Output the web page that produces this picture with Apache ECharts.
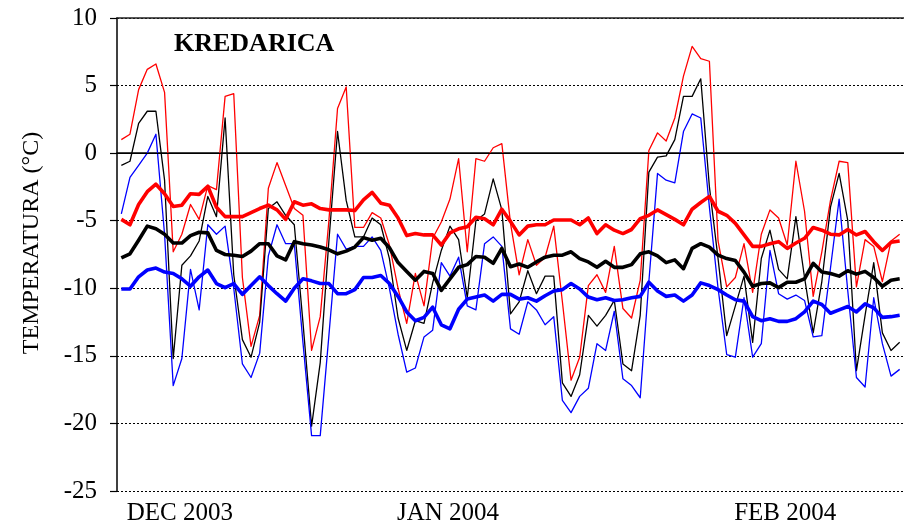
<!DOCTYPE html>
<html>
<head>
<meta charset="utf-8">
<script src="https://cdn.jsdelivr.net/npm/echarts@6/dist/echarts.min.js"></script>
<style>
  html, body { margin: 0; padding: 0; background: #fff; }
  #chart { width: 904px; height: 528px; }
</style>
</head>
<body>
<div id="chart"></div>
<script>
// Daily air temperature at Kredarica, 1 Dec 2003 - 29 Feb 2004 (°C)
const stationName = 'KREDARICA';
const axisTitle = 'TEMPERATURA (°C)';

// one category per day
const firstDay = Date.UTC(2003, 11, 1);
const dayCount = 91;
const days = [];
for (let i = 0; i < dayCount; i++) {
  days.push(new Date(firstDay + i * 86400000).toISOString().slice(0, 10));
}

// month captions under the axis
const monthLabels = ['DEC 2003', 'JAN 2004', 'FEB 2004'];
const monthLabelDays = ['2003-12-08', '2004-01-08', '2004-02-16'];

// y axis ticks
const yTicks = [-25, -20, -15, -10, -5, 0, 5, 10];

// daily maximum
const tMax = [
  1.0, 1.4, 4.7, 6.2, 6.6, 4.5, -7.3, -6.0, -3.8, -4.9,
  -2.4, -2.7, 4.2, 4.4, -9.2, -14.3, -12.0, -2.6, -0.7, -2.4,
  -4.1, -4.6, -14.6, -12.1, -5.0, 3.3, 4.9, -5.5, -5.5, -4.4,
  -4.8, -6.8, -10.0, -12.6, -8.9, -11.3, -6.3, -5.1, -3.4, -0.4,
  -7.3, -0.4, -0.6, 0.4, 0.7, -5.2, -9.0, -6.4, -8.3, -7.7,
  -5.4, -11.0, -16.8, -15.1, -9.8, -9.0, -10.3, -6.9, -11.5, -12.2,
  -9.4, 0.2, 1.5, 0.9, 2.6, 5.7, 7.9, 7.0, 6.8, -6.5,
  -9.9, -9.2, -6.7, -10.3, -6.0, -4.2, -4.8, -6.8, -0.6, -4.3,
  -10.6, -7.3, -3.5, -0.6, -0.7, -9.9, -6.4, -6.9, -9.5, -6.5,
  -6.0
];

// daily mean
const tMean = [
  -0.9, -0.6, 2.2, 3.1, 3.1, -2.0, -15.2, -8.3, -7.6, -6.5,
  -3.2, -4.7, 2.6, -9.0, -13.8, -15.1, -12.5, -4.1, -3.6, -4.6,
  -5.3, -12.5, -20.2, -15.5, -6.5, 1.6, -3.5, -6.2, -6.2, -4.8,
  -5.3, -7.8, -12.2, -14.6, -12.4, -12.6, -9.6, -7.2, -5.4, -6.4,
  -10.7, -5.0, -4.5, -1.9, -4.2, -11.9, -11.0, -8.7, -10.4, -9.1,
  -9.1, -17.0, -18.0, -16.4, -12.0, -12.8, -12.0, -10.9, -15.6, -16.1,
  -12.0, -1.4, -0.3, -0.2, 1.0, 4.2, 4.2, 5.5, -2.5, -7.8,
  -13.5, -11.3, -9.1, -14.0, -7.8, -5.7, -8.6, -9.3, -4.7, -9.2,
  -13.3, -9.5, -4.0, -1.5, -5.0, -16.1, -12.0, -8.1, -13.3, -14.6,
  -14.0
];

// daily minimum
const tMin = [
  -4.5, -1.8, -0.9, 0.0, 1.4, -6.0, -17.2, -15.2, -8.6, -11.6,
  -5.3, -6.0, -5.4, -10.0, -15.6, -16.6, -14.8, -7.6, -5.3, -6.7,
  -6.7, -14.0, -20.9, -20.9, -13.5, -6.0, -7.1, -6.9, -6.9, -6.2,
  -7.2, -10.0, -13.4, -16.2, -15.9, -13.6, -13.1, -8.1, -9.1, -7.7,
  -11.3, -11.6, -6.7, -6.2, -6.9, -13.0, -13.4, -11.0, -11.6, -12.7,
  -12.1, -18.3, -19.2, -18.0, -17.4, -14.1, -14.6, -11.7, -16.7, -17.2,
  -18.1, -9.5, -1.5, -2.0, -2.2, 1.6, 2.9, 2.6, -4.0, -10.0,
  -14.9, -15.1, -10.7, -15.1, -14.1, -7.2, -10.4, -10.8, -10.5, -10.9,
  -13.6, -13.5, -8.5, -3.4, -10.2, -16.6, -17.3, -10.7, -14.1, -16.5,
  -16.0
];

// long-term average of the daily maximum
const avgMax = [
  -4.9, -5.3, -3.8, -2.85, -2.3, -3.0, -3.95, -3.85, -3.0, -3.05,
  -2.45, -4.0, -4.7, -4.7, -4.7, -4.4, -4.1, -3.85, -4.2, -4.9,
  -3.6, -3.85, -3.75, -4.1, -4.2, -4.2, -4.2, -4.25, -3.45, -2.9,
  -3.7, -3.85, -4.8, -6.1, -5.95, -6.05, -6.05, -6.8, -5.9, -5.6,
  -5.45, -4.75, -4.85, -5.3, -4.15, -5.05, -6.05, -5.4, -5.3, -5.3,
  -4.95, -4.95, -4.95, -5.3, -4.8, -5.95, -5.3, -5.7, -5.95, -5.65,
  -4.85, -4.6, -4.2, -4.55, -4.9, -5.3, -4.15, -3.65, -3.2, -4.3,
  -4.6, -5.2, -6.05, -6.9, -6.9, -6.7, -6.55, -7.05, -6.65, -6.3,
  -5.5, -5.7, -6.0, -6.05, -5.65, -6.05, -5.8, -6.55, -7.2, -6.6,
  -6.5
];

// long-term average of the daily mean
const avgMean = [
  -7.75, -7.45, -6.45, -5.4, -5.6, -6.0, -6.65, -6.65, -6.1, -5.85,
  -5.9, -7.2, -7.5, -7.55, -7.65, -7.25, -6.7, -6.7, -7.6, -7.9,
  -6.55, -6.7, -6.8, -6.95, -7.15, -7.45, -7.25, -6.95, -6.25, -6.45,
  -6.3, -7.0, -8.1, -8.75, -9.4, -8.75, -8.9, -10.15, -9.3, -8.45,
  -8.25, -7.65, -7.7, -8.15, -7.05, -8.4, -8.2, -8.45, -8.05, -7.7,
  -7.55, -7.55, -7.3, -7.8, -8.05, -8.45, -8.0, -8.45, -8.45, -8.25,
  -7.45, -7.3, -7.6, -8.1, -7.9, -8.55, -7.05, -6.7, -6.95, -7.55,
  -7.8, -7.95, -8.8, -9.85, -9.65, -9.6, -9.95, -9.55, -9.55, -9.3,
  -8.15, -8.8, -8.9, -9.1, -8.7, -8.95, -8.75, -9.2, -9.85, -9.4,
  -9.3
];

// long-term average of the daily minimum
const avgMin = [
  -10.05, -10.05, -9.15, -8.65, -8.5, -8.8, -8.9, -9.3, -9.85, -9.15,
  -8.65, -9.65, -9.95, -9.65, -10.45, -9.8, -9.15, -9.8, -10.4, -10.95,
  -10.0, -9.3, -9.45, -9.65, -9.65, -10.4, -10.4, -10.1, -9.2, -9.2,
  -9.05, -9.65, -10.6, -11.75, -12.4, -12.15, -11.4, -12.7, -13.0, -11.55,
  -10.8, -10.65, -10.5, -10.95, -10.45, -10.45, -10.8, -10.7, -10.95, -10.55,
  -10.2, -10.1, -9.65, -10.05, -10.65, -10.85, -10.7, -10.9, -10.85, -10.7,
  -10.6, -9.55, -10.2, -10.6, -10.5, -10.95, -10.5, -9.6, -9.8, -10.1,
  -10.5, -10.85, -10.95, -12.1, -12.4, -12.25, -12.45, -12.45, -12.25, -11.75,
  -10.95, -11.2, -11.85, -11.6, -11.35, -11.75, -11.15, -11.45, -12.15, -12.1,
  -12.0
];

const serif = '"Liberation Serif", "Times New Roman", serif';

function lineSeries(name, data, color, width) {
  return {
    name: name,
    type: 'line',
    data: data,
    showSymbol: false,
    symbol: 'none',
    animation: false,
    lineStyle: { color: color, width: width, join: 'round' },
    itemStyle: { color: color }
  };
}

const chart = echarts.init(document.getElementById('chart'), null, { renderer: 'canvas' });

// solid line at 0 °C
const zeroLine = lineSeries('zero', [], '#000', 1);
zeroLine.markLine = {
  silent: true,
  symbol: 'none',
  animation: false,
  label: { show: false },
  lineStyle: { color: '#000', type: 'solid', width: 1 },
  data: [{ yAxis: 0 }]
};

chart.setOption({
  backgroundColor: '#fff',
  animation: false,
  title: {
    text: stationName,
    left: 174,
    top: 31,
    padding: 0,
    textStyle: { fontFamily: serif, fontWeight: 'bold', fontSize: 26, color: '#000' }
  },
  grid: { left: 117, right: -16, top: 18, bottom: 37, containLabel: false },
  xAxis: [
    {
      type: 'category',
      data: days,
      boundaryGap: true,
      axisLine: { show: true, lineStyle: { color: '#000', width: 1.5 } },
      axisTick: { show: false },
      splitLine: { show: false },
      axisLabel: {
        interval: function (index, value) { return monthLabelDays.indexOf(value) >= 0; },
        formatter: function (value) { return monthLabels[monthLabelDays.indexOf(value)]; },
        fontFamily: serif,
        fontSize: 25,
        color: '#000',
        margin: 10,
        padding: [0, 4, 0, 0]
      }
    },
    {
      type: 'category',
      data: days,
      position: 'top',
      boundaryGap: true,
      axisLine: { show: true, lineStyle: { color: '#222', width: 1.5 } },
      axisTick: { show: false },
      axisLabel: { show: false },
      splitLine: { show: false }
    }
  ],
  yAxis: {
    type: 'value',
    min: yTicks[0],
    max: yTicks[yTicks.length - 1],
    interval: 5,
    axisLine: { show: true, lineStyle: { color: '#000', width: 1.5 } },
    axisTick: { show: true, inside: false, length: 7, lineStyle: { color: '#000', width: 1.2 } },
    axisLabel: {
      fontFamily: serif,
      fontSize: 25,
      color: '#000',
      margin: 20,
      formatter: function (value) { return String(value); }
    },
    splitLine: { show: true, lineStyle: { color: '#000', width: 1, type: [2, 2] } }
  },
  graphic: [
    {
      type: 'text',
      x: 32,
      y: 243,
      rotation: Math.PI / 2,
      style: {
        text: axisTitle,
        font: '24px ' + serif,
        fill: '#000',
        textAlign: 'center',
        textVerticalAlign: 'middle'
      }
    }
  ],
  series: [
    zeroLine,
    lineSeries('Tmax', tMax, '#ff0000', 1.3),
    lineSeries('Tmean', tMean, '#000000', 1.3),
    lineSeries('Tmin', tMin, '#0000ff', 1.3),
    lineSeries('avg Tmax', avgMax, '#ff0000', 3.6),
    lineSeries('avg Tmean', avgMean, '#000000', 3.6),
    lineSeries('avg Tmin', avgMin, '#0000ff', 3.6)
  ]
});
</script>
</body>
</html>
